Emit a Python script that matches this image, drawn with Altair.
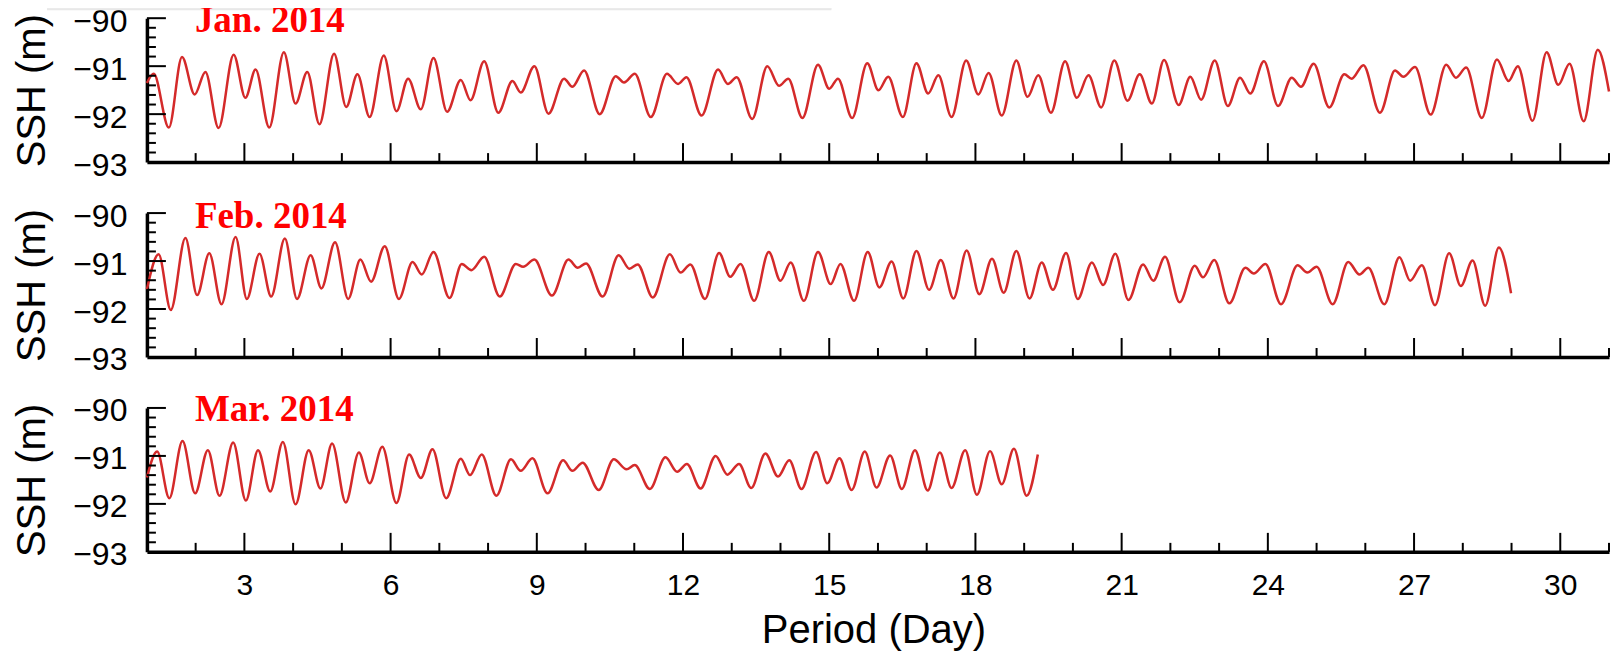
import altair as alt
import pandas as pd

# ---------------- data (extrema of the curves) ----------------
jan_day = [1.00, 1.14, 1.45, 1.72, 1.98, 2.20, 2.47, 2.78, 3.02, 3.23,
           3.51, 3.81, 4.05, 4.29, 4.54, 4.84, 5.09, 5.32, 5.57, 5.86,
           6.12, 6.36, 6.62, 6.88, 7.16, 7.44, 7.64, 7.92, 8.21, 8.50,
           8.67, 8.95, 9.24, 9.56, 9.73, 9.97, 10.29, 10.62, 10.79, 11.01,
           11.34, 11.67, 11.90, 12.07, 12.38, 12.72, 12.92, 13.10, 13.42, 13.73,
           13.97, 14.16, 14.45, 14.77, 15.00, 15.18, 15.47, 15.78, 16.01, 16.21,
           16.51, 16.79, 17.03, 17.24, 17.51, 17.81, 18.06, 18.27, 18.54, 18.84,
           19.07, 19.29, 19.55, 19.84, 20.08, 20.32, 20.58, 20.85, 21.12, 21.37,
           21.62, 21.87, 22.17, 22.41, 22.63, 22.91, 23.18, 23.43, 23.64, 23.92,
           24.21, 24.49, 24.68, 24.94, 25.26, 25.57, 25.72, 25.96, 26.30, 26.61,
           26.78, 27.02, 27.34, 27.66, 27.86, 28.07, 28.39, 28.70, 28.94, 29.13,
           29.43, 29.72, 29.96, 30.19, 30.48, 30.77, 31.00]
jan_ssh = [-91.35, -91.16, -92.28, -90.81, -91.59, -91.12, -92.29, -90.76, -91.66, -91.07,
           -92.28, -90.71, -91.78, -91.12, -92.21, -90.74, -91.85, -91.17, -92.06, -90.78,
           -91.94, -91.26, -91.90, -90.83, -91.95, -91.29, -91.71, -90.90, -91.97, -91.31,
           -91.55, -91.00, -91.99, -91.26, -91.43, -91.09, -92.00, -91.21, -91.34, -91.16,
           -92.06, -91.16, -91.37, -91.23, -92.03, -91.07, -91.37, -91.23, -92.10, -91.00,
           -91.41, -91.26, -92.08, -90.97, -91.47, -91.26, -92.08, -90.94, -91.50, -91.22,
           -92.06, -90.94, -91.57, -91.19, -92.06, -90.88, -91.59, -91.14, -92.03, -90.88,
           -91.64, -91.19, -91.97, -90.90, -91.66, -91.19, -91.86, -90.88, -91.72, -91.17,
           -91.78, -90.87, -91.81, -91.22, -91.70, -90.88, -91.83, -91.24, -91.57, -90.90,
           -91.83, -91.24, -91.43, -90.95, -91.86, -91.17, -91.26, -90.98, -91.97, -91.09,
           -91.22, -91.02, -92.01, -90.97, -91.24, -91.03, -92.08, -90.86, -91.31, -91.00,
           -92.14, -90.71, -91.39, -90.95, -92.15, -90.66, -91.53]

feb_day = [1.00, 1.24, 1.49, 1.79, 2.03, 2.28, 2.53, 2.82, 3.05, 3.31,
           3.55, 3.83, 4.08, 4.36, 4.58, 4.86, 5.13, 5.38, 5.60, 5.88,
           6.17, 6.45, 6.64, 6.88, 7.21, 7.46, 7.66, 7.92, 8.24, 8.57,
           8.72, 8.95, 9.31, 9.65, 9.84, 10.01, 10.35, 10.68, 10.90, 11.07,
           11.38, 11.73, 11.95, 12.15, 12.45, 12.74, 12.97, 13.18, 13.46, 13.76,
           14.00, 14.21, 14.48, 14.77, 15.03, 15.23, 15.51, 15.79, 16.03, 16.28,
           16.52, 16.79, 17.05, 17.29, 17.55, 17.82, 18.08, 18.34, 18.58, 18.84,
           19.11, 19.36, 19.59, 19.86, 20.10, 20.39, 20.62, 20.87, 21.14, 21.44,
           21.65, 21.89, 22.19, 22.50, 22.67, 22.90, 23.21, 23.54, 23.71, 23.95,
           24.27, 24.61, 24.81, 25.00, 25.33, 25.65, 25.88, 26.06, 26.39, 26.70,
           26.92, 27.16, 27.43, 27.72, 27.96, 28.20, 28.46, 28.74, 28.99]
feb_ssh = [-91.59, -90.86, -92.02, -90.52, -91.71, -90.84, -91.90, -90.50, -91.79, -90.85,
           -91.74, -90.53, -91.79, -90.88, -91.57, -90.61, -91.79, -90.97, -91.43, -90.69,
           -91.79, -91.02, -91.28, -90.81, -91.77, -91.06, -91.19, -90.91, -91.74, -91.06,
           -91.12, -90.97, -91.72, -90.97, -91.14, -91.05, -91.74, -90.88, -91.16, -91.07,
           -91.76, -90.86, -91.24, -91.07, -91.79, -90.83, -91.33, -91.06, -91.83, -90.81,
           -91.41, -91.03, -91.83, -90.81, -91.48, -91.06, -91.83, -90.81, -91.55, -91.01,
           -91.78, -90.79, -91.60, -90.98, -91.78, -90.78, -91.69, -90.95, -91.66, -90.79,
           -91.78, -91.03, -91.60, -90.83, -91.79, -91.03, -91.50, -90.85, -91.81, -91.07,
           -91.41, -90.91, -91.86, -91.10, -91.34, -90.98, -91.88, -91.14, -91.26, -91.06,
           -91.90, -91.09, -91.24, -91.12, -91.90, -91.02, -91.28, -91.14, -91.90, -90.92,
           -91.41, -91.09, -91.92, -90.84, -91.52, -90.99, -91.93, -90.72, -91.67]

mar_day = [1.00, 1.21, 1.46, 1.73, 1.99, 2.25, 2.49, 2.77, 3.03, 3.28,
           3.53, 3.79, 4.05, 4.32, 4.56, 4.80, 5.08, 5.35, 5.57, 5.83,
           6.12, 6.38, 6.62, 6.86, 7.14, 7.44, 7.63, 7.87, 8.17, 8.47,
           8.67, 8.91, 9.22, 9.54, 9.73, 9.94, 10.27, 10.58, 10.84, 11.01,
           11.32, 11.64, 11.88, 12.08, 12.36, 12.67, 12.91, 13.15, 13.40, 13.69,
           13.95, 14.18, 14.43, 14.73, 14.96, 15.21, 15.46, 15.73, 15.97, 16.25,
           16.49, 16.76, 17.02, 17.27, 17.51, 17.79, 18.03, 18.30, 18.54, 18.79,
           19.05, 19.28]
mar_ssh = [-91.45, -90.91, -91.88, -90.69, -91.78, -90.88, -91.83, -90.72, -91.93, -90.88,
           -91.74, -90.71, -92.01, -90.88, -91.68, -90.74, -91.97, -90.93, -91.57, -90.81,
           -91.98, -90.97, -91.46, -90.86, -91.88, -91.06, -91.40, -90.97, -91.83, -91.07,
           -91.31, -91.05, -91.78, -91.09, -91.31, -91.14, -91.71, -91.07, -91.28, -91.19,
           -91.69, -91.03, -91.33, -91.17, -91.68, -91.00, -91.39, -91.17, -91.67, -90.95,
           -91.43, -91.09, -91.69, -90.92, -91.57, -91.05, -91.71, -90.91, -91.66, -90.99,
           -91.69, -90.88, -91.72, -90.93, -91.67, -90.88, -91.81, -90.90, -91.59, -90.85,
           -91.83, -90.97]

panel_labels = ["Jan. 2014", "Feb. 2014", "Mar. 2014"]

# axis tick positions
x_major = [3, 6, 9, 12, 15, 18, 21, 24, 27, 30]
x_minor = [2, 4, 5, 7, 8, 10, 11, 13, 14, 16, 17, 19, 20, 22, 23, 25, 26, 28, 29, 31]
y_major = [-90, -91, -92, -93]
y_minor = [-90.2, -90.4, -90.6, -90.8, -91.2, -91.4, -91.6, -91.8,
           -92.2, -92.4, -92.6, -92.8]

# ---------------- layout / style ----------------
W = 1463
H = 144
LINE_RED = "#d42a2a"
FONT = "Liberation Sans"

xs = alt.Scale(domain=[1, 31], nice=False, zero=False)
ys = alt.Scale(domain=[-93, -90], nice=False, zero=False)


def panel(days, ssh, label, bottom, title_dy, box=False):
    df = pd.DataFrame({"day": days, "ssh": ssh})
    if bottom:
        x_axis = alt.Axis(values=x_major, format="d", ticks=False, grid=False,
                          domainWidth=3.5, domainColor="black",
                          labelFont=FONT, labelFontSize=30, labelColor="black",
                          labelPadding=19, labelFlush=False,
                          title="Period (Day)", titleFont=FONT, titleFontSize=40,
                          titleFontWeight="normal", titleColor="black",
                          titleBaseline="alphabetic", titleY=91, titleX=727,
                          titleAlign="center")
    else:
        x_axis = alt.Axis(values=x_major, ticks=False, grid=False, labels=False,
                          domainWidth=3.5, domainColor="black", title="")
    y_axis = alt.Axis(values=y_major, format="d", ticks=False, grid=False,
                      domainWidth=3.5, domainColor="black",
                      labelFont=FONT, labelFontSize=32, labelColor="black",
                      labelPadding=20, labelOffset=3, labelFlush=False,
                      title="SSH (m)", titleFont=FONT, titleFontSize=40,
                      titleFontWeight="normal", titleColor="black",
                      titleBaseline="middle", titleAlign="center",
                      titleX=-114, titleY=H / 2, titleAngle=270)

    line = alt.Chart(df).mark_line(color=LINE_RED, strokeWidth=2.5,
                                   interpolate="monotone").encode(
        x=alt.X("day:Q", scale=xs, axis=x_axis),
        y=alt.Y("ssh:Q", scale=ys, axis=y_axis),
    )

    ymaj = alt.Chart(pd.DataFrame({"ssh": y_major[:-1]})).mark_rule(
        color="black", strokeWidth=2).encode(
        y=alt.Y("ssh:Q", scale=ys), x=alt.value(0), x2=alt.value(19))
    ymin = alt.Chart(pd.DataFrame({"ssh": y_minor})).mark_rule(
        color="black", strokeWidth=2).encode(
        y=alt.Y("ssh:Q", scale=ys), x=alt.value(0), x2=alt.value(9))
    xmaj = alt.Chart(pd.DataFrame({"day": x_major})).mark_rule(
        color="black", strokeWidth=2).encode(
        x=alt.X("day:Q", scale=xs), y=alt.value(H), y2=alt.value(H - 19))
    xmin = alt.Chart(pd.DataFrame({"day": x_minor})).mark_rule(
        color="black", strokeWidth=2).encode(
        x=alt.X("day:Q", scale=xs), y=alt.value(H), y2=alt.value(H - 9))

    txt = alt.Chart(pd.DataFrame({"t": [label]})).mark_text(
        font="Liberation Serif", fontWeight="bold", fontSize=37, color="#ff0000",
        align="left", baseline="alphabetic").encode(
        text="t:N", x=alt.value(48), y=alt.value(title_dy))

    layers = [line, ymaj, ymin, xmaj, xmin, txt]
    if box:
        shade1 = alt.Chart(pd.DataFrame({"k": [0]})).mark_rect(
            color="#c9c9c9").encode(
            x=alt.value(-100), x2=alt.value(685), y=alt.value(-12), y2=alt.value(-10))
        shade2 = alt.Chart(pd.DataFrame({"k": [0]})).mark_rect(
            color="#e8e8e8").encode(
            x=alt.value(-100), x2=alt.value(685), y=alt.value(-10), y2=alt.value(-8))
        layers = [shade1, shade2] + layers
    return alt.layer(*layers).properties(width=W, height=H)


p1 = panel(jan_day, jan_ssh, panel_labels[0], False, 14, box=True)
p2 = panel(feb_day, feb_ssh, panel_labels[1], False, 15)
p3 = panel(mar_day, mar_ssh, panel_labels[2], True, 13)

chart = alt.vconcat(p1, p2, p3, spacing=51, bounds="flush").properties(
    padding={"left": 5, "top": -6, "right": 0, "bottom": 0},
    background="white",
).configure_view(stroke=None)

chart.save("out.html", embed_options={"renderer": "svg", "actions": False})
